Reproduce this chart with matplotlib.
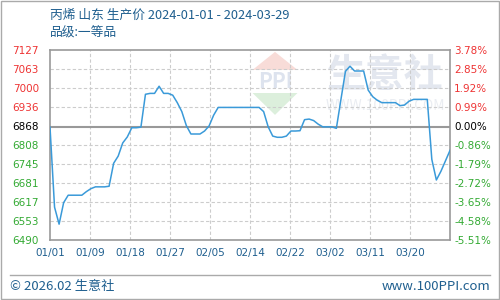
import numpy as np
import matplotlib.pyplot as plt
from matplotlib.patches import Polygon, Rectangle

plt.rcParams['font.family'] = ['Noto Sans CJK SC', 'DejaVu Sans']

# 丙烯 山东 生产价, 2024-01-01 .. 2024-03-29 (每日)
prices = [6868, 6600, 6543, 6615, 6640, 6640, 6640, 6640, 6652, 6662,
          6668, 6668, 6668, 6670, 6747, 6771, 6815, 6835, 6866, 6866,
          6868, 6978, 6981, 6981, 7005, 6981, 6981, 6975, 6950, 6920,
          6873, 6845, 6845, 6845, 6855, 6872, 6908, 6934, 6934, 6934,
          6934, 6934, 6934, 6934, 6934, 6934, 6934, 6920, 6869, 6838,
          6834, 6834, 6838, 6855, 6855, 6856, 6893, 6895, 6890, 6878,
          6869, 6869, 6869, 6864, 6960, 7055, 7072, 7056, 7056, 7056,
          6992, 6970, 6958, 6950, 6950, 6950, 6950, 6940, 6942, 6955,
          6961, 6961, 6961, 6961, 6760, 6691, 6720, 6755, 6790]
date_labels = ["01/01", "01/09", "01/18", "01/27", "02/05",
               "02/14", "02/22", "03/02", "03/11", "03/20"]
left_labels = ["6490", "6553", "6617", "6681", "6745", "6808",
               "6868", "6936", "7000", "7063", "7127"]
right_labels = ["-5.51%", "-4.58%", "-3.65%", "-2.72%", "-1.79%", "-0.86%",
                "0.00%", "0.99%", "1.92%", "2.85%", "3.78%"]
ymin, ymax = 6490, 7127

blue = '#1f5f8f'
red = '#ee3333'
green = '#33aa33'

fig = plt.figure(figsize=(5, 3), dpi=100)
fig.patches.append(Rectangle((0.002, 0.003), 0.996, 0.994, transform=fig.transFigure,
                             fill=False, edgecolor='#aaaaaa', lw=1))

ax = fig.add_axes([0.1, 0.2, 0.8, 0.634])
ax.set_zorder(2)
n = len(prices)
x = np.arange(n)
xt = np.arange(10) * (n - 1) / 10
yt = np.linspace(ymin, ymax, 11)

# 水印
wm = dict(transform=fig.transFigure, zorder=0)
fig.patches.append(Polygon([[0.505, 0.767], [0.550, 0.827], [0.595, 0.767]], closed=True,
                           facecolor='#f8dcd8', edgecolor='none', **wm))
fig.patches.append(Polygon([[0.505, 0.690], [0.550, 0.617], [0.595, 0.690]], closed=True,
                           facecolor='#dcefdc', edgecolor='none', **wm))
fig.text(0.55, 0.728, "PPI", fontsize=15, fontweight='bold', color='#dde3ee',
         ha='center', va='center', **wm)
fig.text(0.77, 0.75, "生意社", fontsize=28, fontweight='bold', color='#e3e7ef',
         ha='center', va='center', **wm)
fig.text(0.77, 0.647, "WWW.100PPI.COM", fontsize=10, color='#eaedf2',
         ha='center', va='center', **wm)
ax.set_facecolor('none')

for v in xt[1:]:
    ax.axvline(v, color='#cccccc', lw=0.8, ls=(0, (3, 2)), zorder=1)
for i, v in enumerate(yt[1:-1], start=1):
    if i == 6:
        ax.axhline(6868, color='#999999', lw=1.5, zorder=2)
    else:
        ax.axhline(v, color='#cccccc', lw=0.8, ls=(0, (3, 2)), zorder=1)

ax.plot(x, prices, color='#3a9ad9', lw=1.1, zorder=3)
ax.set_xlim(0, n - 1)
ax.set_ylim(ymin, ymax)
for s in ax.spines.values():
    s.set_color('#999999')
    s.set_linewidth(1.2)

ax.set_xticks(xt)
ax.set_xticklabels(date_labels, fontsize=7.5, color=blue, family='DejaVu Sans')
ax.set_yticks(yt)
ax.set_yticklabels(left_labels, fontsize=7.5, family='DejaVu Sans')
ax.tick_params(length=0, pad=6)
ax.tick_params(axis='y', pad=8)

ax2 = ax.twinx()
ax2.set_zorder(1)
ax2.set_ylim(ymin, ymax)
ax2.set_yticks(yt)
ax2.set_yticklabels(right_labels, fontsize=7.5, family='DejaVu Sans')
ax2.tick_params(length=0, pad=3)
for s in ax2.spines.values():
    s.set_visible(False)

for axis in (ax, ax2):
    for i, t in enumerate(axis.get_yticklabels()):
        t.set_color(red if i > 6 else ('black' if i == 6 else green))

fig.text(0.1, 0.95, "丙烯 山东 生产价 2024-01-01 - 2024-03-29", fontsize=9.2,
         color=blue, va='center')
fig.text(0.1, 0.89, "品级:一等品", fontsize=9.2, color=blue, va='center')

fig.add_artist(plt.Line2D([0.02, 0.98], [0.083, 0.083], color='#aaaaaa', lw=1,
                          transform=fig.transFigure))
fig.text(0.02, 0.045, "© 2026.02 生意社", fontsize=9.5, color=blue, va='center')
fig.text(0.98, 0.045, "www.100PPI.com", fontsize=9.5, color=blue, va='center', ha='right')

plt.savefig('out.png', dpi=100)
